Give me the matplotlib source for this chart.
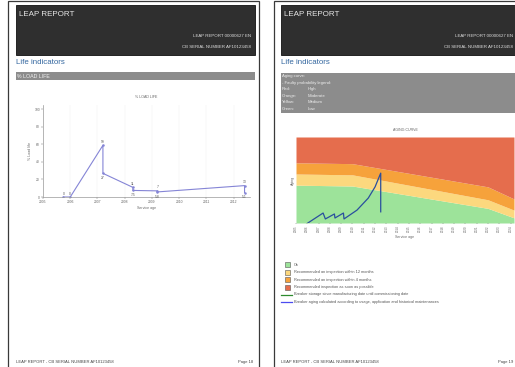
import matplotlib.pyplot as plt
from matplotlib.patches import Rectangle
from matplotlib.lines import Line2D

plt.rcParams['font.family'] = ['Liberation Sans', 'DejaVu Sans']

# % load life measurements (service years)
load_x = [2005.75, 2006.0, 2007.2, 2007.2, 2008.3, 2008.3, 2009.2, 2009.2, 2012.4, 2012.4]
load_y = [0, 0, 59, 27, 11, 7.5, 7, 5.8, 13, 5.1]
load_years = [2005, 2006, 2007, 2008, 2009, 2010, 2011, 2012]
load_ticks = [0, 20, 40, 60, 80, 100]

# aging curve: faulty probability bands
band_x = [2005, 2010, 2022, 2024.3]
green_top = [44, 43, 17, 6]
yellow_top = [57, 56, 27, 15]
orange_top = [70, 69, 42, 28]
aging_years = list(range(2005, 2025))

# breaker aging path
aging_x = [2006.05, 2007.4, 2007.6, 2008.4, 2008.45, 2009.2, 2009.25, 2010.4, 2011.4, 2012.0, 2012.5, 2012.5]
aging_y = [0, 11.6, 4.7, 10.5, 5.8, 11.6, 4.7, 15, 29, 42, 58, 13]

legend_labels = ["Ok",
                 "Recommended an inspection within 12 months",
                 "Recommended an inspection within 4 months",
                 "Recommended inspection as soon as possible"]
legend_lines = ["Breaker storage since manufacturing date until commissioning date",
                "Breaker aging calculated according to usage, application and historical maintenances"]

RED, ORANGE, YELLOW, GREEN = "#e56d4d", "#f6a23b", "#fcd87e", "#9de39a"

W, H = 515, 367
fig = plt.figure(figsize=(W / 100, H / 100), dpi=100)


def fx(x):
    return x / W


def fy(y):
    return 1 - y / H


def box(x0, y0, x1, y1, **kw):
    fig.patches.append(Rectangle((fx(x0), fy(y1)), (x1 - x0) / W, (y1 - y0) / H,
                                 transform=fig.transFigure, **kw))


def txt(x, y, s, **kw):
    kw.setdefault("va", "center")
    fig.text(fx(x), fy(y), s, **kw)


def axes_px(x0, y0, x1, y1):
    return fig.add_axes([fx(x0), fy(y1), (x1 - x0) / W, (y1 - y0) / H])


# two report pages
for left, right, hx0, hx1 in [(8, 259, 16, 255), (274, 540, 281, 540)]:
    box(left, 1, right, 380, fill=False, ec="#3a3a3a", lw=0.9)
    box(hx0, 5, hx1, 55, fc="#2f2f2f", ec="#111111", lw=0.6)
    txt(hx0 + 3, 15, "LEAP REPORT", color="#e6e6e6", fontsize=5.8)
    txt(hx0, 62, "Life indicators", color="#3568a0", fontsize=5.7)
    txt(hx0, 362, "LEAP REPORT - CB SERIAL NUMBER AF10123458", color="#444444", fontsize=3)

txt(251, 36, "LEAP REPORT 00000627 EN", color="#dddddd", fontsize=3.2, ha="right")
txt(251, 47, "CB SERIAL NUMBER AF10123458", color="#dddddd", fontsize=3.2, ha="right")
txt(513, 36, "LEAP REPORT 00000627 EN", color="#dddddd", fontsize=3.2, ha="right")
txt(513, 47, "CB SERIAL NUMBER AF10123458", color="#dddddd", fontsize=3.2, ha="right")
txt(253, 362, "Page 18", color="#444444", fontsize=3, ha="right")
txt(513, 362, "Page 19", color="#444444", fontsize=3, ha="right")

# left page section bar
box(16, 72, 255, 80, fc="#8c8c8c", ec="none")
txt(17, 76, "% LOAD LIFE", color="#f2f2f2", fontsize=3.8)

# right page legend box
box(281, 73, 540, 113, fc="#8c8c8c", ec="none")
info = [("Aging curve:", ""), ("- Faulty probability legend:", ""),
        ("Red:", "High"), ("Orange:", "Moderate"), ("Yellow:", "Medium"), ("Green:", "Low")]
for i, (a, b) in enumerate(info):
    txt(282, 76.5 + i * 6.4, a, color="#eeeeee", fontsize=3.1)
    if b:
        txt(308, 76.5 + i * 6.4, b, color="#eeeeee", fontsize=3.1)

# % load life chart
ax = axes_px(43, 105, 250, 197)
ax.plot(load_x, load_y, color="#8585d6", lw=0.8, marker="o", ms=0.8)
for i, (x, y) in enumerate(zip(load_x, load_y)):
    below = i > 0 and load_x[i - 1] == x and load_y[i - 1] > y
    ax.annotate(f"{y:g}", (x, y), xytext=(0, -3.5 if below else 2.5),
                textcoords="offset points", ha="center", va="center",
                fontsize=2.4, color="#555555")
ax.set_xlim(2005, 2012.6)
ax.set_ylim(0, 105)
ax.set_xticks(load_years)
ax.set_yticks(load_ticks)
ax.tick_params(labelsize=2.4, length=1.2, width=0.3, colors="#666666", pad=1)
for s in ["top", "right"]:
    ax.spines[s].set_visible(False)
for s in ["left", "bottom"]:
    ax.spines[s].set_color("#999999")
    ax.spines[s].set_linewidth(0.5)
ax.grid(axis="x", color="#eeeeee", lw=0.3)
ax.set_title("% LOAD LIFE", fontsize=2.6, color="#666666", pad=5)
ax.set_xlabel("Service age", fontsize=2.6, color="#666666", labelpad=1.5)
ax.set_ylabel("% Load life", fontsize=2.6, color="#666666", labelpad=2)
ax.patch.set_alpha(0)

# aging curve chart
ax2 = axes_px(296, 137, 514, 223)
ax2.fill_between(band_x, 0, green_top, color=GREEN, lw=0)
ax2.fill_between(band_x, green_top, yellow_top, color=YELLOW, lw=0)
ax2.fill_between(band_x, yellow_top, orange_top, color=ORANGE, lw=0)
ax2.fill_between(band_x, orange_top, 100, color=RED, lw=0)
ax2.plot(aging_x, aging_y, color="#2a4f9e", lw=0.9)
ax2.set_xlim(2005, 2024.3)
ax2.set_ylim(0, 100)
ax2.set_xticks(aging_years)
ax2.set_xticklabels([str(y) for y in aging_years], rotation=90)
ax2.set_yticks([])
ax2.tick_params(labelsize=2.2, length=1, width=0.3, colors="#666666", pad=1)
for s in ax2.spines.values():
    s.set_visible(False)
ax2.set_title("AGING CURVE", fontsize=2.6, color="#666666", pad=4)
ax2.set_xlabel("Service age", fontsize=2.6, color="#666666", labelpad=2)
ax2.set_ylabel("Aging", fontsize=2.6, color="#666666", labelpad=1)

# right page legend
for i, (lab, col) in enumerate(zip(legend_labels, [GREEN, YELLOW, ORANGE, RED])):
    yc = 264.5 + i * 7.6
    box(285, yc - 2.5, 290, yc + 2.5, fc=col, ec="#555555", lw=0.4)
    txt(294, yc, lab, color="#555555", fontsize=2.8)
for i, (lab, col) in enumerate(zip(legend_lines, ["#2e8b2e", "#4b4bf0"])):
    yc = 294.5 + i * 7.6
    fig.add_artist(Line2D([fx(281), fx(292)], [fy(yc), fy(yc)], color=col, lw=0.9,
                          transform=fig.transFigure))
    txt(294, yc, lab, color="#555555", fontsize=2.8)

fig.savefig("out.png", dpi=100)
